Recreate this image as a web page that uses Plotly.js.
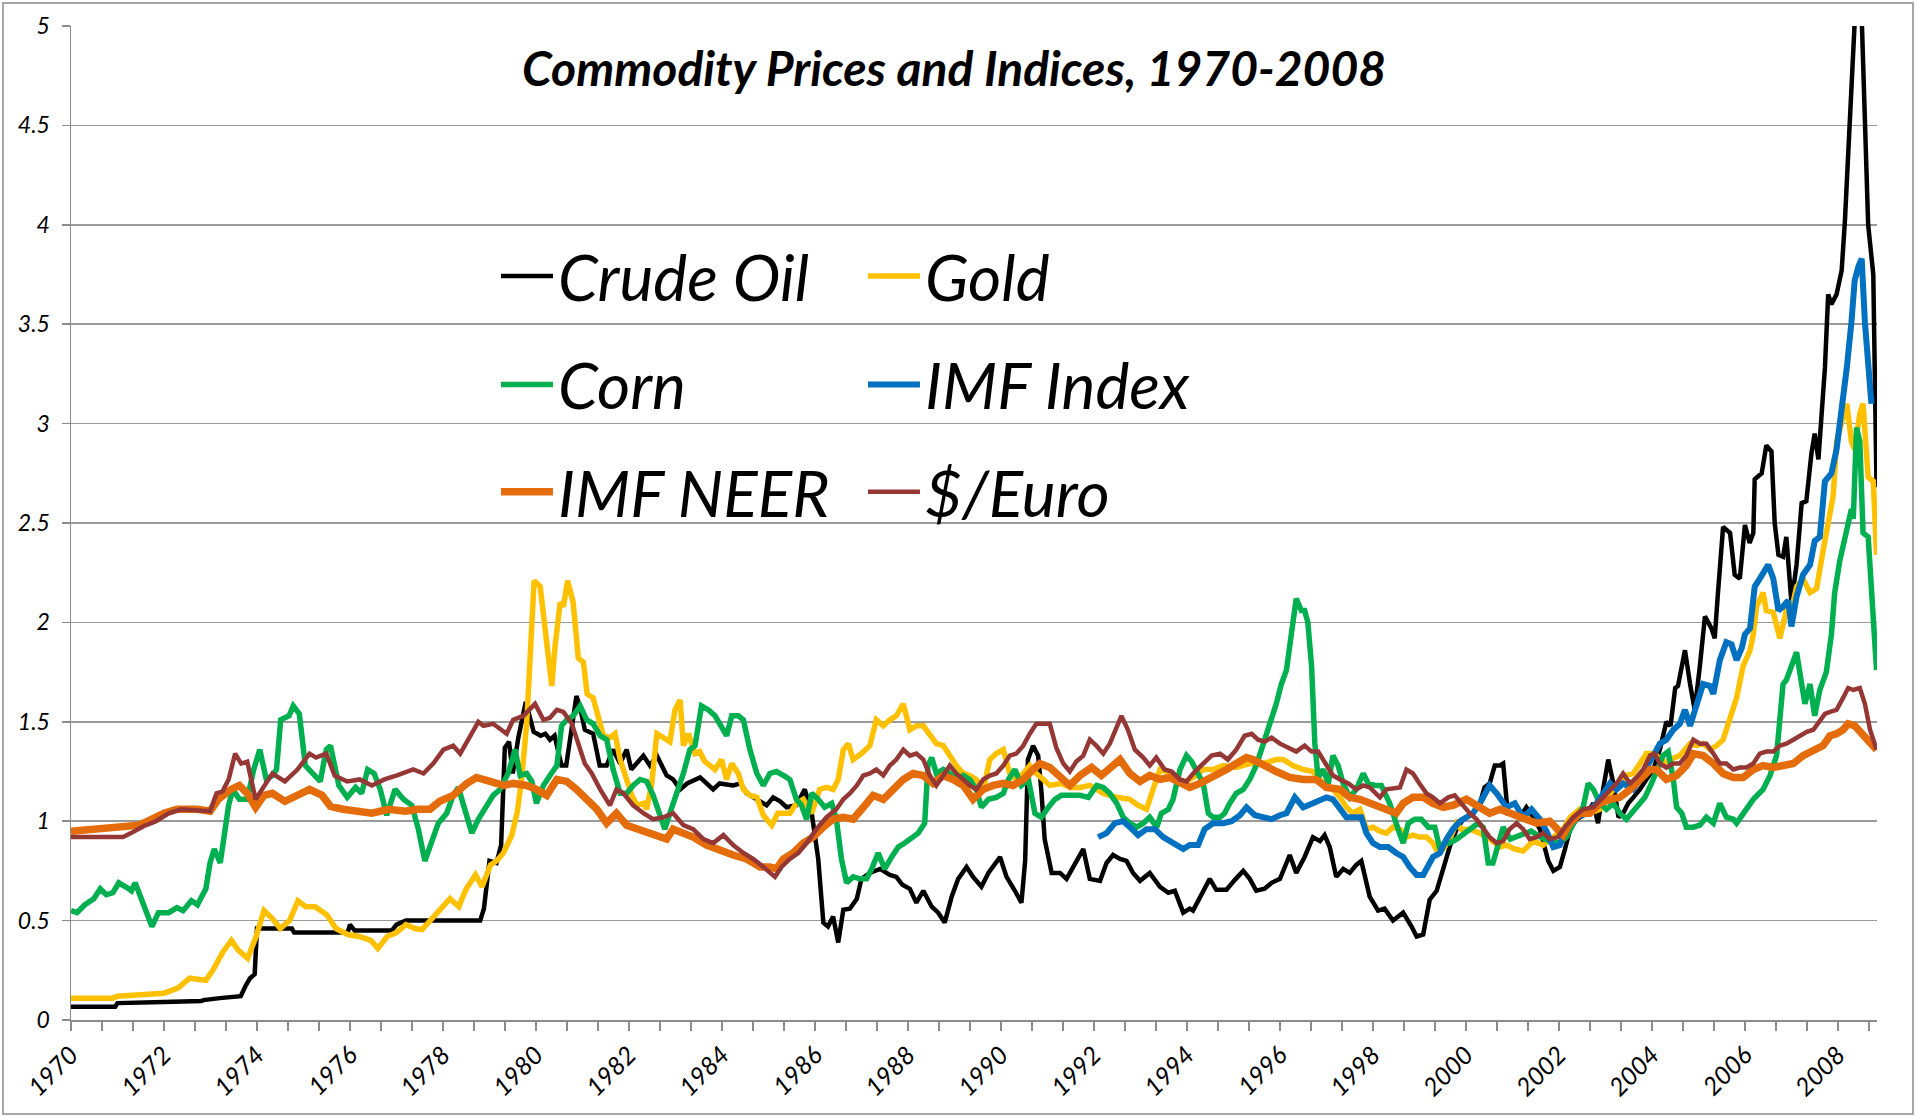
<!DOCTYPE html>
<html>
<head>
<meta charset="utf-8">
<script src="https://cdn.plot.ly/plotly-3.0.1.min.js"></script>
<style>
  html, body { margin: 0; padding: 0; background: #fff; }
  #wrap { position: relative; width: 1917px; height: 1117px; }
  #chart { position: absolute; left: 0; top: 0; width: 1917px; height: 1117px; }
  #frame { position: absolute; left: 2px; top: 2px; width: 1908px; height: 1109px;
           border: 2px solid #a6a6a6; pointer-events: none; }
</style>
</head>
<body>
<div id="wrap"><div id="chart"></div><div id="frame"></div></div>
<script>
// ---------- DATA (decimal years) ----------
const seriesNames = ["Crude Oil", "Gold", "Corn", "IMF Index", "IMF NEER", "$/Euro"];
const yTicks = [0, 0.5, 1, 1.5, 2, 2.5, 3, 3.5, 4, 4.5, 5];
const xTickYears = [1970,1972,1974,1976,1978,1980,1982,1984,1986,1988,1990,1992,1994,1996,1998,2000,2002,2004,2006,2008];

const oilT = [1970.0,1970.95,1971.0,1971.95,1972.0,1972.8,1972.85,1973.2,1973.65,1973.75,1973.85,1973.95,1974.0,1974.75,1974.8,1975.95,1976.0,1976.1,1976.9,1977.0,1977.2,1978.8,1978.88,1979.0,1979.15,1979.25,1979.33,1979.42,1979.5,1979.62,1979.78,1979.95,1980.1,1980.2,1980.3,1980.4,1980.55,1980.65,1980.77,1980.87,1980.95,1981.05,1981.23,1981.37,1981.52,1981.66,1981.81,1981.95,1982.05,1982.31,1982.45,1982.6,1982.81,1982.95,1983.1,1983.25,1983.53,1983.81,1983.95,1984.24,1984.4,1984.53,1984.75,1984.96,1985.1,1985.25,1985.39,1985.6,1985.78,1985.93,1986.07,1986.18,1986.28,1986.39,1986.5,1986.61,1986.75,1986.9,1987.0,1987.18,1987.4,1987.61,1987.75,1987.88,1988.04,1988.18,1988.33,1988.51,1988.65,1988.79,1988.94,1989.08,1989.26,1989.4,1989.58,1989.73,1989.98,1990.12,1990.3,1990.44,1990.52,1990.58,1990.69,1990.8,1990.87,1990.94,1991.09,1991.27,1991.41,1991.55,1991.77,1991.91,1992.13,1992.27,1992.41,1992.56,1992.7,1992.84,1992.99,1993.2,1993.42,1993.6,1993.74,1993.92,1994.06,1994.13,1994.28,1994.49,1994.63,1994.85,1995.03,1995.21,1995.35,1995.49,1995.67,1995.82,1996.0,1996.21,1996.35,1996.53,1996.71,1996.86,1996.96,1997.07,1997.21,1997.36,1997.5,1997.64,1997.75,1997.93,1998.11,1998.25,1998.43,1998.65,1998.83,1998.94,1999.08,1999.22,1999.37,1999.51,1999.65,1999.8,1999.94,2000.15,2000.3,2000.4,2000.51,2000.62,2000.73,2000.8,2000.9,2001.0,2001.16,2001.3,2001.45,2001.59,2001.77,2001.88,2002.02,2002.13,2002.24,2002.38,2002.6,2002.74,2002.84,2002.95,2003.06,2003.17,2003.28,2003.38,2003.49,2003.6,2003.74,2003.88,2004.03,2004.17,2004.31,2004.4,2004.5,2004.56,2004.71,2004.82,2004.92,2005.03,2005.14,2005.28,2005.35,2005.42,2005.53,2005.68,2005.78,2005.89,2006.0,2006.1,2006.18,2006.21,2006.36,2006.46,2006.57,2006.64,2006.72,2006.82,2006.89,2007.0,2007.11,2007.22,2007.32,2007.43,2007.5,2007.58,2007.65,2007.72,2007.79,2007.86,2007.97,2008.08,2008.15,2008.22,2008.29,2008.36,2008.44,2008.51,2008.58,2008.65,2008.76,2008.83];
const oilV = [0.067,0.067,0.085,0.085,0.09,0.095,0.10,0.11,0.12,0.17,0.21,0.23,0.46,0.46,0.44,0.44,0.48,0.45,0.45,0.48,0.50,0.50,0.56,0.80,0.79,0.88,1.37,1.40,1.24,1.42,1.60,1.45,1.43,1.44,1.41,1.43,1.28,1.28,1.49,1.63,1.57,1.46,1.44,1.28,1.28,1.36,1.29,1.36,1.26,1.33,1.28,1.33,1.23,1.21,1.16,1.19,1.22,1.16,1.19,1.18,1.19,1.14,1.11,1.08,1.12,1.10,1.07,1.08,1.16,1.04,0.81,0.49,0.47,0.52,0.39,0.555,0.56,0.61,0.71,0.74,0.76,0.73,0.72,0.68,0.66,0.59,0.65,0.57,0.54,0.49,0.62,0.71,0.77,0.72,0.67,0.74,0.82,0.72,0.65,0.59,0.80,1.31,1.38,1.33,1.15,0.91,0.74,0.74,0.71,0.77,0.86,0.71,0.70,0.79,0.83,0.81,0.80,0.74,0.70,0.74,0.67,0.64,0.65,0.54,0.56,0.55,0.62,0.71,0.655,0.655,0.705,0.75,0.71,0.65,0.66,0.69,0.71,0.83,0.74,0.82,0.92,0.90,0.93,0.87,0.72,0.76,0.74,0.78,0.80,0.62,0.55,0.56,0.50,0.54,0.47,0.42,0.43,0.605,0.65,0.77,0.87,0.96,1.01,1.04,1.09,1.17,1.19,1.28,1.28,1.29,1.04,1.04,1.02,1.07,1.02,0.96,0.80,0.75,0.77,0.86,0.96,1.01,1.04,1.09,0.99,1.16,1.31,1.19,1.02,1.04,1.09,1.12,1.16,1.21,1.26,1.36,1.50,1.48,1.67,1.68,1.86,1.69,1.56,1.78,2.03,1.97,1.92,2.15,2.48,2.45,2.24,2.22,2.49,2.40,2.45,2.72,2.75,2.89,2.86,2.50,2.34,2.33,2.43,2.10,2.29,2.60,2.61,2.85,2.95,2.82,3.05,3.28,3.65,3.60,3.65,3.77,4.02,4.35,4.67,5.05,5.40,5.05,4.44,4.00,3.75,2.68];

const goldT = [1970.0,1970.9,1971.0,1971.7,1972.0,1972.3,1972.55,1972.9,1973.05,1973.26,1973.45,1973.6,1973.8,1973.98,1974.15,1974.33,1974.5,1974.7,1974.88,1975.05,1975.25,1975.5,1975.7,1975.95,1976.2,1976.45,1976.6,1976.8,1977.0,1977.2,1977.4,1977.55,1977.75,1978.0,1978.15,1978.34,1978.5,1978.7,1978.84,1979.02,1979.15,1979.3,1979.48,1979.6,1979.69,1979.8,1979.87,1979.96,1980.09,1980.16,1980.27,1980.34,1980.41,1980.52,1980.59,1980.68,1980.8,1980.91,1981.02,1981.1,1981.23,1981.34,1981.45,1981.59,1981.7,1981.81,1981.92,1982.06,1982.17,1982.31,1982.38,1982.49,1982.6,1982.74,1982.88,1982.99,1983.1,1983.17,1983.28,1983.42,1983.52,1983.63,1983.85,1983.99,1984.1,1984.21,1984.35,1984.46,1984.6,1984.75,1984.89,1985.07,1985.2,1985.46,1985.6,1985.75,1985.93,1986.1,1986.25,1986.39,1986.5,1986.61,1986.72,1986.82,1987.0,1987.18,1987.32,1987.47,1987.61,1987.75,1987.9,1988.04,1988.18,1988.33,1988.47,1988.61,1988.76,1988.9,1989.04,1989.19,1989.33,1989.47,1989.62,1989.76,1989.9,1990.05,1990.19,1990.33,1990.48,1990.62,1990.76,1990.91,1991.05,1991.3,1991.5,1991.7,1991.91,1992.06,1992.2,1992.49,1992.77,1992.95,1993.13,1993.27,1993.42,1993.56,1993.7,1993.92,1994.13,1994.35,1994.56,1994.78,1995.06,1995.35,1995.64,1995.92,1996.07,1996.28,1996.5,1996.71,1996.93,1997.14,1997.29,1997.43,1997.57,1997.72,1997.86,1998.0,1998.15,1998.29,1998.43,1998.58,1998.72,1998.86,1999.0,1999.15,1999.29,1999.4,1999.51,1999.65,1999.8,1999.9,2000.08,2000.3,2000.51,2000.73,2000.87,2001.05,2001.23,2001.45,2001.66,2001.88,2002.09,2002.24,2002.45,2002.66,2002.88,2003.1,2003.31,2003.45,2003.6,2003.74,2003.88,2003.99,2004.1,2004.24,2004.39,2004.6,2004.82,2004.96,2005.1,2005.25,2005.39,2005.53,2005.68,2005.82,2005.96,2006.11,2006.18,2006.25,2006.39,2006.46,2006.61,2006.75,2006.89,2007.0,2007.11,2007.25,2007.4,2007.54,2007.68,2007.79,2007.9,2007.97,2008.08,2008.19,2008.29,2008.36,2008.47,2008.54,2008.65,2008.76,2008.83];
const goldV = [0.11,0.11,0.12,0.13,0.135,0.16,0.21,0.20,0.25,0.34,0.40,0.35,0.31,0.42,0.55,0.51,0.46,0.50,0.60,0.57,0.57,0.53,0.46,0.43,0.42,0.40,0.36,0.42,0.44,0.48,0.46,0.455,0.51,0.57,0.61,0.57,0.66,0.73,0.67,0.78,0.80,0.84,0.93,1.05,1.21,1.49,1.80,2.21,2.18,2.05,1.80,1.68,1.88,2.10,2.08,2.21,2.10,1.82,1.80,1.64,1.62,1.53,1.43,1.42,1.44,1.31,1.23,1.13,1.08,1.09,1.06,1.19,1.44,1.42,1.40,1.56,1.61,1.38,1.44,1.34,1.35,1.30,1.26,1.31,1.21,1.29,1.24,1.16,1.13,1.12,1.03,0.98,1.04,1.04,1.09,1.11,1.04,1.16,1.17,1.16,1.21,1.36,1.39,1.31,1.34,1.38,1.51,1.48,1.51,1.53,1.59,1.46,1.48,1.48,1.44,1.39,1.38,1.33,1.28,1.24,1.23,1.21,1.16,1.31,1.34,1.36,1.24,1.21,1.24,1.28,1.24,1.21,1.18,1.19,1.17,1.17,1.18,1.16,1.14,1.12,1.11,1.08,1.06,1.16,1.26,1.25,1.21,1.19,1.22,1.26,1.26,1.28,1.27,1.29,1.29,1.31,1.31,1.28,1.26,1.25,1.19,1.16,1.12,1.07,1.04,1.06,0.96,0.97,0.95,0.94,0.97,0.96,0.92,0.93,0.92,0.92,0.89,0.84,0.86,0.91,0.99,0.96,0.96,0.94,0.91,0.87,0.88,0.86,0.85,0.90,0.88,0.92,0.96,1.02,1.06,1.04,1.06,1.14,1.19,1.23,1.24,1.29,1.34,1.34,1.33,1.29,1.31,1.33,1.39,1.38,1.39,1.36,1.38,1.41,1.53,1.62,1.78,1.86,1.94,2.08,2.15,2.06,2.05,1.92,2.06,2.06,2.18,2.22,2.15,2.17,2.36,2.52,2.64,2.91,3.00,3.10,2.91,2.87,3.05,3.10,2.73,2.71,2.34];

const cornT = [1970.0,1970.13,1970.3,1970.49,1970.63,1970.76,1970.9,1971.03,1971.21,1971.3,1971.38,1971.56,1971.74,1971.88,1972.1,1972.28,1972.41,1972.59,1972.72,1972.81,1972.9,1972.99,1973.08,1973.21,1973.3,1973.39,1973.48,1973.62,1973.79,1973.93,1974.06,1974.2,1974.33,1974.42,1974.51,1974.69,1974.78,1974.91,1975.04,1975.22,1975.36,1975.49,1975.58,1975.76,1975.94,1976.12,1976.25,1976.38,1976.52,1976.65,1976.79,1976.97,1977.15,1977.33,1977.47,1977.61,1977.76,1977.9,1978.08,1978.22,1978.33,1978.47,1978.62,1978.76,1978.94,1979.08,1979.23,1979.4,1979.55,1979.66,1979.8,1979.91,1980.01,1980.16,1980.3,1980.45,1980.55,1980.66,1980.8,1980.95,1981.09,1981.23,1981.38,1981.52,1981.66,1981.81,1981.95,1982.09,1982.24,1982.38,1982.52,1982.67,1982.77,1982.88,1983.02,1983.17,1983.31,1983.42,1983.56,1983.71,1983.85,1983.96,1984.1,1984.21,1984.35,1984.46,1984.6,1984.75,1984.89,1985.03,1985.17,1985.32,1985.46,1985.6,1985.71,1985.82,1985.93,1986.07,1986.21,1986.36,1986.46,1986.57,1986.68,1986.82,1986.97,1987.11,1987.22,1987.36,1987.5,1987.65,1987.79,1987.93,1988.08,1988.22,1988.36,1988.43,1988.51,1988.61,1988.76,1988.9,1989.04,1989.19,1989.33,1989.47,1989.58,1989.73,1989.9,1990.05,1990.16,1990.3,1990.44,1990.59,1990.73,1990.87,1991.02,1991.16,1991.3,1991.5,1991.7,1991.88,1992.06,1992.2,1992.34,1992.49,1992.63,1992.77,1992.92,1993.06,1993.2,1993.35,1993.45,1993.6,1993.7,1993.85,1993.99,1994.1,1994.24,1994.35,1994.46,1994.56,1994.71,1994.81,1994.92,1995.06,1995.21,1995.35,1995.49,1995.64,1995.78,1995.92,1996.03,1996.14,1996.25,1996.35,1996.46,1996.53,1996.6,1996.68,1996.75,1996.82,1996.93,1997.04,1997.14,1997.25,1997.36,1997.5,1997.64,1997.79,1997.9,1998.04,1998.18,1998.36,1998.54,1998.65,1998.76,1998.9,1999.04,1999.19,1999.33,1999.44,1999.54,1999.65,1999.8,1999.97,2000.12,2000.26,2000.37,2000.48,2000.58,2000.69,2000.8,2000.95,2001.16,2001.4,2001.6,2001.8,2002.02,2002.16,2002.38,2002.52,2002.63,2002.74,2002.88,2003.02,2003.17,2003.31,2003.45,2003.56,2003.7,2003.85,2003.99,2004.13,2004.24,2004.35,2004.46,2004.53,2004.64,2004.74,2004.89,2005.03,2005.17,2005.32,2005.46,2005.6,2005.75,2005.82,2005.96,2006.18,2006.39,2006.54,2006.68,2006.75,2006.82,2006.89,2007.04,2007.11,2007.22,2007.29,2007.4,2007.5,2007.61,2007.75,2007.86,2007.93,2008.04,2008.19,2008.29,2008.33,2008.4,2008.47,2008.54,2008.65,2008.72,2008.83];
const cornV = [0.55,0.54,0.58,0.61,0.66,0.63,0.64,0.69,0.665,0.65,0.69,0.57,0.47,0.54,0.54,0.565,0.55,0.60,0.58,0.62,0.66,0.79,0.86,0.79,0.94,1.08,1.16,1.11,1.11,1.26,1.36,1.21,1.23,1.26,1.51,1.53,1.58,1.54,1.28,1.24,1.20,1.36,1.38,1.18,1.12,1.17,1.14,1.26,1.24,1.16,1.03,1.16,1.11,1.08,0.96,0.80,0.91,0.99,1.04,1.13,1.17,1.06,0.94,1.01,1.08,1.13,1.16,1.24,1.36,1.23,1.24,1.20,1.09,1.18,1.23,1.28,1.48,1.51,1.53,1.58,1.51,1.49,1.43,1.41,1.26,1.14,1.14,1.18,1.21,1.20,1.13,1.03,0.96,1.04,1.13,1.24,1.36,1.38,1.58,1.56,1.53,1.49,1.43,1.53,1.53,1.51,1.36,1.24,1.18,1.24,1.25,1.23,1.21,1.11,1.08,1.01,1.14,1.11,1.07,1.09,1.01,0.81,0.69,0.72,0.71,0.71,0.76,0.84,0.76,0.82,0.87,0.89,0.92,0.94,0.99,1.28,1.32,1.24,1.26,1.24,1.21,1.23,1.21,1.16,1.07,1.11,1.12,1.14,1.21,1.26,1.18,1.21,1.04,1.02,1.07,1.11,1.13,1.13,1.13,1.12,1.18,1.17,1.14,1.09,1.02,0.99,0.97,0.99,1.02,0.97,1.04,1.06,1.11,1.26,1.33,1.30,1.23,1.19,1.04,1.02,1.02,1.04,1.09,1.14,1.16,1.21,1.28,1.39,1.48,1.59,1.69,1.76,1.95,2.12,2.06,2.06,2.00,1.78,1.39,1.22,1.26,1.19,1.33,1.28,1.19,1.12,1.16,1.24,1.19,1.18,1.18,1.09,0.96,0.89,0.99,1.01,1.01,0.97,0.97,0.86,0.89,0.89,0.91,0.94,0.96,0.99,0.97,0.79,0.79,0.89,0.97,0.91,0.93,0.95,0.92,0.90,0.89,0.92,1.02,1.07,1.19,1.16,1.09,1.06,1.09,1.04,1.01,1.04,1.07,1.12,1.19,1.26,1.33,1.35,1.21,1.07,1.04,0.97,0.97,0.98,1.02,0.99,1.09,1.02,1.01,0.99,1.04,1.11,1.16,1.23,1.33,1.49,1.69,1.71,1.80,1.85,1.69,1.59,1.69,1.53,1.66,1.75,1.94,2.15,2.31,2.45,2.57,2.52,2.98,2.91,2.45,2.43,2.17,1.76];

const imfT = [1992.09,1992.27,1992.45,1992.63,1992.77,1992.95,1993.13,1993.31,1993.49,1993.7,1993.92,1994.06,1994.24,1994.38,1994.56,1994.78,1994.96,1995.14,1995.28,1995.46,1995.64,1995.82,1996.0,1996.14,1996.32,1996.5,1996.71,1996.86,1997.0,1997.14,1997.29,1997.43,1997.57,1997.75,1997.86,1998.0,1998.15,1998.33,1998.5,1998.65,1998.79,1998.94,1999.08,1999.19,1999.29,1999.44,1999.58,1999.72,1999.87,2000.01,2000.15,2000.3,2000.4,2000.51,2000.66,2000.8,2000.87,2001.05,2001.23,2001.41,2001.59,2001.73,2001.88,2002.02,2002.16,2002.38,2002.59,2002.81,2002.95,2003.1,2003.24,2003.38,2003.6,2003.74,2003.88,2004.03,2004.17,2004.31,2004.46,2004.6,2004.71,2004.82,2004.96,2005.1,2005.25,2005.32,2005.46,2005.6,2005.71,2005.82,2005.93,2006.0,2006.11,2006.21,2006.32,2006.43,2006.5,2006.61,2006.72,2006.82,2006.93,2007.0,2007.11,2007.25,2007.4,2007.5,2007.61,2007.72,2007.86,2007.97,2008.08,2008.19,2008.29,2008.36,2008.44,2008.51,2008.58,2008.65,2008.72];
const imfV = [0.92,0.94,0.99,1.00,0.97,0.93,0.96,0.96,0.92,0.89,0.86,0.88,0.88,0.96,0.99,0.99,1.00,1.03,1.07,1.03,1.02,1.01,1.03,1.04,1.12,1.07,1.09,1.11,1.12,1.11,1.06,1.02,1.02,1.02,0.94,0.89,0.87,0.87,0.84,0.82,0.77,0.73,0.73,0.77,0.82,0.84,0.91,0.96,1.00,1.02,1.04,1.09,1.14,1.18,1.14,1.10,1.07,1.09,1.02,1.06,1.01,0.95,0.87,0.88,0.97,1.02,1.04,1.09,1.14,1.19,1.16,1.19,1.16,1.21,1.27,1.33,1.39,1.41,1.46,1.49,1.56,1.48,1.58,1.69,1.68,1.64,1.81,1.90,1.89,1.81,1.87,1.94,1.97,2.18,2.22,2.27,2.29,2.22,2.06,2.08,2.11,1.98,2.13,2.24,2.29,2.41,2.43,2.71,2.75,2.87,3.05,3.28,3.51,3.72,3.79,3.83,3.51,3.28,3.10];

const neerT = [1970.0,1971.12,1971.47,1971.74,1972.0,1972.28,1972.72,1972.99,1973.17,1973.44,1973.62,1973.79,1973.97,1974.15,1974.33,1974.6,1974.87,1975.13,1975.4,1975.58,1975.85,1976.21,1976.47,1976.83,1977.19,1977.46,1977.72,1977.93,1978.22,1978.51,1978.72,1979.01,1979.3,1979.51,1979.8,1980.01,1980.23,1980.45,1980.66,1980.87,1981.09,1981.31,1981.52,1981.73,1981.95,1982.17,1982.38,1982.6,1982.81,1982.95,1983.17,1983.38,1983.67,1983.96,1984.24,1984.53,1984.82,1985.03,1985.17,1985.32,1985.53,1985.75,1985.96,1986.18,1986.39,1986.61,1986.82,1987.04,1987.25,1987.47,1987.68,1987.9,1988.11,1988.33,1988.54,1988.76,1988.97,1989.19,1989.4,1989.62,1989.83,1990.05,1990.26,1990.48,1990.69,1990.84,1991.05,1991.27,1991.48,1991.7,1991.95,1992.16,1992.41,1992.56,1992.77,1992.99,1993.2,1993.42,1993.63,1993.85,1994.06,1994.28,1994.56,1994.85,1995.06,1995.28,1995.42,1995.64,1995.92,1996.21,1996.5,1996.78,1997.0,1997.29,1997.5,1997.72,1997.93,1998.22,1998.5,1998.65,1998.86,1999.08,1999.29,1999.51,1999.72,2000.01,2000.3,2000.51,2000.73,2000.94,2001.23,2001.52,2001.8,2001.95,2002.09,2002.24,2002.45,2002.66,2002.88,2003.1,2003.31,2003.53,2003.74,2003.96,2004.1,2004.31,2004.53,2004.74,2004.89,2005.1,2005.32,2005.53,2005.75,2005.96,2006.18,2006.39,2006.61,2006.82,2007.04,2007.25,2007.47,2007.68,2007.83,2007.97,2008.11,2008.22,2008.36,2008.47,2008.58,2008.69,2008.83];
const neerV = [0.95,0.975,0.98,1.01,1.04,1.06,1.06,1.05,1.11,1.16,1.18,1.14,1.07,1.13,1.14,1.10,1.13,1.16,1.13,1.075,1.06,1.05,1.04,1.06,1.05,1.06,1.06,1.10,1.13,1.19,1.22,1.20,1.18,1.19,1.18,1.16,1.13,1.21,1.20,1.16,1.11,1.06,0.99,1.04,0.98,0.96,0.94,0.92,0.91,0.96,0.94,0.92,0.88,0.85,0.83,0.81,0.77,0.77,0.76,0.81,0.84,0.89,0.92,0.97,1.01,1.02,1.01,1.07,1.13,1.11,1.16,1.21,1.24,1.23,1.19,1.23,1.21,1.18,1.11,1.16,1.18,1.19,1.18,1.21,1.26,1.29,1.27,1.22,1.18,1.23,1.27,1.23,1.28,1.31,1.24,1.20,1.23,1.21,1.22,1.19,1.17,1.19,1.22,1.26,1.29,1.32,1.31,1.28,1.25,1.22,1.21,1.21,1.17,1.16,1.12,1.11,1.09,1.07,1.04,1.09,1.12,1.12,1.09,1.07,1.08,1.11,1.07,1.04,1.06,1.04,1.02,0.99,1.00,0.97,0.93,0.99,1.04,1.04,1.09,1.11,1.12,1.16,1.21,1.26,1.26,1.21,1.23,1.28,1.34,1.33,1.29,1.24,1.22,1.22,1.26,1.28,1.27,1.28,1.29,1.33,1.36,1.38,1.43,1.44,1.46,1.49,1.48,1.45,1.43,1.39,1.36];

const euroT = [1970.0,1971.12,1971.29,1971.56,1971.83,1972.1,1972.37,1972.99,1973.13,1973.26,1973.39,1973.53,1973.66,1973.79,1973.97,1974.15,1974.33,1974.6,1974.87,1975.13,1975.27,1975.49,1975.67,1975.94,1976.21,1976.47,1976.74,1977.01,1977.36,1977.58,1977.79,1978.01,1978.22,1978.37,1978.58,1978.76,1978.87,1979.08,1979.37,1979.51,1979.73,1979.98,1980.16,1980.3,1980.45,1980.59,1980.77,1980.91,1981.05,1981.2,1981.38,1981.59,1981.73,1981.88,1982.09,1982.31,1982.52,1982.74,1982.95,1983.17,1983.38,1983.6,1983.81,1984.03,1984.24,1984.46,1984.67,1984.89,1985.05,1985.14,1985.28,1985.46,1985.64,1985.82,1986.03,1986.25,1986.46,1986.61,1986.75,1986.9,1987.04,1987.18,1987.32,1987.47,1987.61,1987.75,1987.9,1988.04,1988.18,1988.33,1988.47,1988.61,1988.76,1988.9,1989.04,1989.19,1989.33,1989.47,1989.62,1989.76,1989.9,1990.05,1990.19,1990.33,1990.48,1990.62,1990.76,1990.91,1991.05,1991.19,1991.34,1991.48,1991.62,1991.77,1991.91,1992.05,1992.2,1992.34,1992.48,1992.59,1992.73,1992.88,1993.06,1993.2,1993.34,1993.52,1993.67,1993.85,1993.99,1994.17,1994.35,1994.53,1994.71,1994.88,1995.06,1995.24,1995.39,1995.53,1995.67,1995.82,1996.0,1996.18,1996.35,1996.53,1996.68,1996.82,1997.0,1997.14,1997.29,1997.47,1997.64,1997.79,1997.93,1998.15,1998.29,1998.58,1998.72,1998.86,1999.0,1999.15,1999.29,1999.44,1999.62,1999.76,1999.9,2000.08,2000.23,2000.37,2000.51,2000.66,2000.8,2000.94,2001.09,2001.23,2001.37,2001.52,2001.66,2001.8,2001.98,2002.13,2002.31,2002.52,2002.74,2002.95,2003.1,2003.24,2003.38,2003.53,2003.67,2003.81,2003.96,2004.06,2004.17,2004.31,2004.46,2004.6,2004.74,2004.89,2005.03,2005.17,2005.32,2005.46,2005.6,2005.75,2005.89,2006.03,2006.18,2006.32,2006.46,2006.61,2006.75,2006.89,2007.04,2007.18,2007.33,2007.47,2007.61,2007.72,2007.83,2007.97,2008.11,2008.22,2008.33,2008.47,2008.58,2008.69,2008.83];
const euroV = [0.92,0.92,0.94,0.975,1.00,1.04,1.06,1.05,1.14,1.15,1.21,1.34,1.29,1.30,1.11,1.18,1.24,1.20,1.26,1.34,1.32,1.34,1.23,1.20,1.21,1.18,1.21,1.23,1.26,1.24,1.29,1.36,1.38,1.34,1.43,1.50,1.48,1.49,1.44,1.51,1.53,1.59,1.51,1.52,1.56,1.55,1.49,1.39,1.29,1.24,1.16,1.08,1.16,1.14,1.08,1.04,1.01,1.02,1.04,0.98,0.96,0.91,0.89,0.93,0.88,0.84,0.81,0.77,0.74,0.72,0.77,0.81,0.84,0.89,0.96,1.02,1.06,1.11,1.14,1.18,1.23,1.24,1.26,1.23,1.28,1.31,1.36,1.33,1.34,1.31,1.23,1.18,1.23,1.28,1.24,1.21,1.18,1.16,1.21,1.23,1.24,1.28,1.33,1.34,1.38,1.44,1.49,1.49,1.49,1.37,1.29,1.25,1.30,1.33,1.41,1.38,1.34,1.39,1.47,1.53,1.46,1.36,1.32,1.28,1.32,1.26,1.25,1.21,1.20,1.25,1.29,1.33,1.34,1.31,1.36,1.43,1.44,1.41,1.40,1.42,1.39,1.37,1.35,1.38,1.35,1.35,1.28,1.23,1.21,1.19,1.16,1.18,1.17,1.12,1.16,1.17,1.26,1.24,1.19,1.14,1.12,1.09,1.12,1.13,1.09,1.04,1.01,0.96,0.92,0.89,0.90,0.96,0.99,0.96,0.91,0.92,0.94,0.91,0.92,0.97,1.02,1.06,1.07,1.12,1.16,1.19,1.24,1.19,1.22,1.26,1.33,1.34,1.29,1.27,1.29,1.29,1.33,1.41,1.39,1.39,1.34,1.29,1.29,1.26,1.27,1.27,1.29,1.34,1.35,1.35,1.38,1.39,1.41,1.43,1.45,1.46,1.51,1.54,1.55,1.56,1.62,1.67,1.66,1.67,1.59,1.46,1.36];

// ---------- STYLE ----------
const colors = ["#000000", "#FFC000", "#00B050", "#0070C0", "#E46C0A", "#953735"];
const widths = [4.5, 5.5, 5.5, 6, 7.5, 4.5];
const legendIds = ["legend", "legend", "legend2", "legend2", "legend3", "legend3"];
const xs = [oilT, goldT, cornT, imfT, neerT, euroT];
const ys = [oilV, goldV, cornV, imfV, neerV, euroV];

const traces = seriesNames.map((name, i) => ({
  type: "scatter", mode: "lines", name: name,
  x: xs[i], y: ys[i],
  line: { color: colors[i], width: widths[i], shape: "linear" },
  legend: legendIds[i],
  hoverinfo: "skip"
}));

const FONT = "Lato, 'Open Sans', 'DejaVu Sans', sans-serif";
const legendFont = { family: FONT, size: 64, style: "italic", color: "#000" };
function makeLegend(yPos) {
  return {
    orientation: "h", x: 0.2353, xanchor: "left", y: yPos, yanchor: "middle",
    font: legendFont, bgcolor: "rgba(0,0,0,0)", borderwidth: 0,
    itemwidth: 52, entrywidth: 300, entrywidthmode: "pixels",
    itemclick: false, itemdoubleclick: false
  };
}

const layout = {
  width: 1917, height: 1117,
  margin: { l: 71, r: 40, t: 26, b: 97, pad: 0 },
  paper_bgcolor: "#ffffff", plot_bgcolor: "#ffffff",
  showlegend: true,
  title: {
    text: "Commodity Prices and Indices, 1970-2008",
    font: { family: FONT, size: 48, weight: 700, style: "italic", color: "#000" },
    x: 0.4977, xref: "container", xanchor: "center",
    y: 0.938, yref: "container", yanchor: "middle"
  },
  xaxis: {
    type: "linear", range: [1970, 2008.84],
    tickmode: "array", tickvals: xTickYears, ticktext: xTickYears.map(String),
    tickangle: -45,
    ticks: "outside", ticklen: 9, tickwidth: 1.5, tickcolor: "#8c8c8c",
    minor: { tickmode: "linear", tick0: 1970, dtick: 2/3, ticks: "outside", ticklen: 9, tickwidth: 1.5, tickcolor: "#8c8c8c", showgrid: false },
    showgrid: false, zeroline: false,
    showline: true, linecolor: "#8c8c8c", linewidth: 1.5,
    tickfont: { family: FONT, size: 25, style: "italic", color: "#000" },
    fixedrange: true
  },
  yaxis: {
    range: [0, 5], tickmode: "array", tickvals: yTicks, ticktext: yTicks.map(String),
    ticks: "outside", ticklen: 8, tickwidth: 1.5, tickcolor: "#8c8c8c",
    ticklabelstandoff: 7,
    showgrid: true, gridcolor: "#9a9a9a", gridwidth: 1.5,
    zeroline: false, showline: true, linecolor: "#8c8c8c", linewidth: 1.5,
    tickfont: { family: FONT, size: 23, style: "italic", color: "#000" },
    fixedrange: true
  },
  legend: makeLegend(0.748),
  legend2: makeLegend(0.639),
  legend3: makeLegend(0.531)
};

Plotly.newPlot("chart", traces, layout, { staticPlot: true, displayModeBar: false });
</script>
</body>
</html>
